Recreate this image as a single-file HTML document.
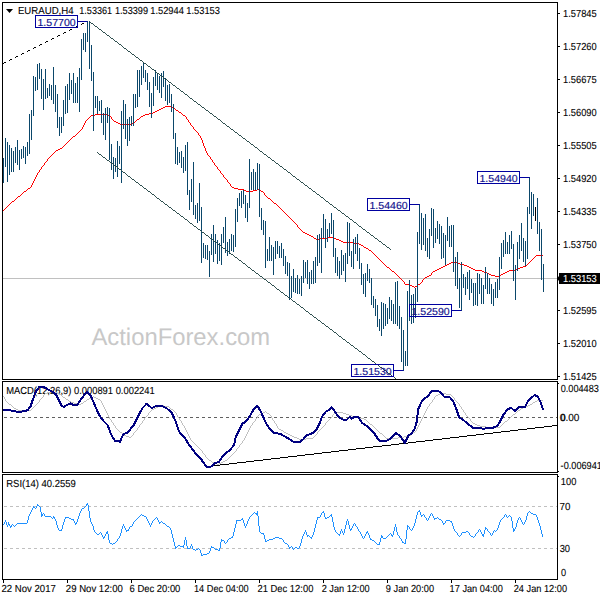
<!DOCTYPE html><html><head><meta charset="utf-8"><style>html,body{margin:0;padding:0;background:#fff;overflow:hidden}svg{display:block}</style></head><body><svg width="600" height="600" viewBox="0 0 600 600" font-family="Liberation Sans, sans-serif" style="text-rendering:geometricPrecision"><rect x="2.5" y="2.5" width="555" height="377" fill="none" stroke="#000"/><rect x="2.5" y="381.5" width="555" height="91" fill="none" stroke="#000"/><rect x="2.5" y="474.5" width="555" height="105" fill="none" stroke="#000"/><text x="6.23" y="394" font-size="10.2" textLength="148.53" lengthAdjust="spacingAndGlyphs" fill="#000" stroke="#000" stroke-width="0.1">MACD(12,26,9) 0.000891 0.002241</text><text x="6.22" y="487" font-size="10.2" textLength="69.53" lengthAdjust="spacingAndGlyphs" fill="#000" stroke="#000" stroke-width="0.1">RSI(14) 40.2559</text><text x="91.45" y="345" font-size="24" textLength="178.72" lengthAdjust="spacingAndGlyphs" fill="#c8c8c8">ActionForex.com</text><line x1="3" y1="278.5" x2="557" y2="278.5" stroke="#c0c0c0"/><path d="M165 106h7v1h-7zM163 107h2v1h-2zM172 107h2v1h-2zM161 108h2v1h-2zM174 108h1v1h-1zM159 109h2v1h-2zM175 109h1v1h-1zM157 110h2v1h-2zM176 110h2v1h-2zM155 111h2v1h-2zM178 111h1v1h-1zM153 112h2v1h-2zM179 112h2v1h-2zM149 113h4v1h-4zM181 113h1v1h-1zM95 114h12v1h-12zM145 114h4v1h-4zM182 114h1v1h-1zM91 115h4v1h-4zM107 115h3v1h-3zM143 115h2v1h-2zM183 115h2v1h-2zM90 116h1v1h-1zM110 116h1v1h-1zM141 116h2v1h-2zM185 116h1v1h-1zM89 117h1v1h-1zM111 117h1v1h-1zM140 117h1v1h-1zM186 117h1v1h-1zM88 118h1v1h-1zM111 118h1v1h-1zM139 118h1v1h-1zM186 118h1v1h-1zM87 119h1v1h-1zM112 119h1v1h-1zM137 119h2v1h-2zM187 119h1v1h-1zM86 120h1v1h-1zM113 120h1v1h-1zM136 120h1v1h-1zM188 120h1v1h-1zM85 121h1v1h-1zM114 121h2v1h-2zM135 121h1v1h-1zM188 121h1v1h-1zM85 122h1v1h-1zM116 122h2v1h-2zM133 122h2v1h-2zM189 122h1v1h-1zM84 123h1v1h-1zM118 123h2v1h-2zM131 123h2v1h-2zM190 123h1v1h-1zM84 124h1v1h-1zM120 124h11v1h-11zM190 124h1v1h-1zM83 125h1v1h-1zM191 125h1v1h-1zM83 126h1v1h-1zM192 126h1v1h-1zM82 127h1v1h-1zM193 127h1v1h-1zM82 128h1v1h-1zM193 128h1v1h-1zM81 129h1v1h-1zM194 129h1v1h-1zM80 130h1v1h-1zM195 130h1v1h-1zM79 131h1v1h-1zM196 131h1v1h-1zM78 132h1v1h-1zM197 132h1v1h-1zM77 133h1v1h-1zM198 133h1v1h-1zM76 134h1v1h-1zM198 134h1v1h-1zM75 135h1v1h-1zM199 135h1v1h-1zM73 136h2v1h-2zM200 136h1v1h-1zM72 137h1v1h-1zM200 137h1v1h-1zM71 138h1v1h-1zM201 138h1v1h-1zM70 139h1v1h-1zM201 139h1v1h-1zM69 140h1v1h-1zM202 140h1v1h-1zM68 141h1v1h-1zM202 141h1v1h-1zM67 142h1v1h-1zM202 142h1v1h-1zM66 143h1v1h-1zM203 143h1v1h-1zM65 144h1v1h-1zM203 144h1v1h-1zM64 145h1v1h-1zM203 145h1v1h-1zM63 146h1v1h-1zM204 146h1v1h-1zM62 147h1v1h-1zM204 147h1v1h-1zM60 148h2v1h-2zM205 148h1v1h-1zM58 149h2v1h-2zM205 149h1v1h-1zM56 150h2v1h-2zM205 150h1v1h-1zM55 151h1v1h-1zM206 151h1v1h-1zM54 152h1v1h-1zM206 152h1v1h-1zM53 153h1v1h-1zM207 153h1v1h-1zM52 154h1v1h-1zM207 154h1v1h-1zM51 155h1v1h-1zM208 155h1v1h-1zM50 156h1v1h-1zM209 156h1v1h-1zM49 157h1v1h-1zM210 157h1v1h-1zM48 158h1v1h-1zM210 158h1v1h-1zM47 159h1v1h-1zM211 159h1v1h-1zM47 160h1v1h-1zM212 160h1v1h-1zM46 161h1v1h-1zM212 161h1v1h-1zM45 162h1v1h-1zM213 162h1v1h-1zM44 163h1v1h-1zM214 163h1v1h-1zM44 164h1v1h-1zM214 164h1v1h-1zM43 165h1v1h-1zM215 165h1v1h-1zM42 166h1v1h-1zM216 166h1v1h-1zM41 167h1v1h-1zM217 167h1v1h-1zM41 168h1v1h-1zM217 168h1v1h-1zM40 169h1v1h-1zM218 169h1v1h-1zM39 170h1v1h-1zM219 170h1v1h-1zM39 171h1v1h-1zM220 171h1v1h-1zM38 172h1v1h-1zM220 172h1v1h-1zM37 173h1v1h-1zM221 173h1v1h-1zM37 174h1v1h-1zM222 174h1v1h-1zM36 175h1v1h-1zM223 175h1v1h-1zM36 176h1v1h-1zM223 176h1v1h-1zM35 177h1v1h-1zM224 177h1v1h-1zM35 178h1v1h-1zM225 178h1v1h-1zM34 179h1v1h-1zM226 179h1v1h-1zM34 180h1v1h-1zM227 180h1v1h-1zM33 181h1v1h-1zM227 181h1v1h-1zM33 182h1v1h-1zM228 182h1v1h-1zM32 183h1v1h-1zM229 183h1v1h-1zM32 184h1v1h-1zM230 184h1v1h-1zM31 185h1v1h-1zM230 185h1v1h-1zM31 186h1v1h-1zM231 186h1v1h-1zM30 187h1v1h-1zM232 187h2v1h-2zM28 188h2v1h-2zM234 188h4v1h-4zM27 189h1v1h-1zM238 189h6v1h-6zM257 189h2v1h-2zM26 190h1v1h-1zM244 190h2v1h-2zM253 190h4v1h-4zM259 190h2v1h-2zM24 191h2v1h-2zM246 191h7v1h-7zM261 191h2v1h-2zM23 192h1v1h-1zM263 192h1v1h-1zM22 193h1v1h-1zM264 193h1v1h-1zM21 194h1v1h-1zM264 194h1v1h-1zM20 195h1v1h-1zM265 195h1v1h-1zM18 196h2v1h-2zM266 196h1v1h-1zM17 197h1v1h-1zM267 197h1v1h-1zM16 198h1v1h-1zM268 198h2v1h-2zM15 199h1v1h-1zM270 199h1v1h-1zM14 200h1v1h-1zM271 200h1v1h-1zM12 201h2v1h-2zM272 201h1v1h-1zM11 202h1v1h-1zM273 202h1v1h-1zM10 203h1v1h-1zM274 203h2v1h-2zM9 204h1v1h-1zM276 204h1v1h-1zM8 205h1v1h-1zM277 205h1v1h-1zM7 206h1v1h-1zM278 206h1v1h-1zM6 207h1v1h-1zM279 207h1v1h-1zM5 208h1v1h-1zM280 208h1v1h-1zM4 209h1v1h-1zM281 209h1v1h-1zM3 210h1v1h-1zM282 210h1v1h-1zM283 211h1v1h-1zM284 212h1v1h-1zM285 213h1v1h-1zM286 214h1v1h-1zM287 215h1v1h-1zM288 216h1v1h-1zM289 217h1v1h-1zM290 218h1v1h-1zM291 219h1v1h-1zM292 220h1v1h-1zM293 221h1v1h-1zM294 222h1v1h-1zM295 223h1v1h-1zM296 224h1v1h-1zM297 225h1v1h-1zM297 226h1v1h-1zM298 227h1v1h-1zM299 228h1v1h-1zM300 229h1v1h-1zM301 230h1v1h-1zM302 231h1v1h-1zM303 232h2v1h-2zM305 233h2v1h-2zM307 234h2v1h-2zM309 235h2v1h-2zM311 236h2v1h-2zM313 237h1v1h-1zM327 237h7v1h-7zM314 238h2v1h-2zM319 238h8v1h-8zM334 238h2v1h-2zM316 239h3v1h-3zM336 239h3v1h-3zM339 240h2v1h-2zM341 241h2v1h-2zM343 242h11v1h-11zM354 243h5v1h-5zM359 244h2v1h-2zM361 245h2v1h-2zM363 246h1v1h-1zM364 247h2v1h-2zM366 248h2v1h-2zM368 249h1v1h-1zM369 250h2v1h-2zM371 251h1v1h-1zM372 252h1v1h-1zM373 253h1v1h-1zM374 254h1v1h-1zM375 255h1v1h-1zM536 255h7v1h-7zM376 256h1v1h-1zM535 256h1v1h-1zM377 257h1v1h-1zM534 257h1v1h-1zM378 258h1v1h-1zM533 258h1v1h-1zM379 259h1v1h-1zM532 259h1v1h-1zM380 260h1v1h-1zM531 260h1v1h-1zM381 261h1v1h-1zM530 261h1v1h-1zM382 262h1v1h-1zM451 262h6v1h-6zM529 262h1v1h-1zM383 263h1v1h-1zM449 263h2v1h-2zM457 263h3v1h-3zM528 263h1v1h-1zM384 264h1v1h-1zM447 264h2v1h-2zM460 264h4v1h-4zM527 264h1v1h-1zM385 265h1v1h-1zM445 265h2v1h-2zM464 265h3v1h-3zM526 265h1v1h-1zM386 266h1v1h-1zM443 266h2v1h-2zM467 266h2v1h-2zM523 266h3v1h-3zM387 267h2v1h-2zM441 267h2v1h-2zM469 267h2v1h-2zM520 267h3v1h-3zM389 268h1v1h-1zM439 268h2v1h-2zM471 268h2v1h-2zM518 268h2v1h-2zM390 269h1v1h-1zM437 269h2v1h-2zM473 269h2v1h-2zM516 269h2v1h-2zM391 270h1v1h-1zM435 270h2v1h-2zM475 270h7v1h-7zM509 270h7v1h-7zM392 271h2v1h-2zM433 271h2v1h-2zM482 271h2v1h-2zM507 271h2v1h-2zM394 272h1v1h-1zM432 272h1v1h-1zM484 272h3v1h-3zM505 272h2v1h-2zM395 273h1v1h-1zM431 273h1v1h-1zM487 273h2v1h-2zM503 273h2v1h-2zM396 274h1v1h-1zM431 274h1v1h-1zM489 274h2v1h-2zM501 274h2v1h-2zM397 275h1v1h-1zM429 275h2v1h-2zM491 275h4v1h-4zM499 275h2v1h-2zM398 276h1v1h-1zM427 276h2v1h-2zM495 276h4v1h-4zM399 277h1v1h-1zM425 277h2v1h-2zM400 278h1v1h-1zM424 278h1v1h-1zM401 279h1v1h-1zM423 279h1v1h-1zM402 280h1v1h-1zM422 280h1v1h-1zM403 281h1v1h-1zM422 281h1v1h-1zM404 282h1v1h-1zM421 282h1v1h-1zM404 283h1v1h-1zM420 283h1v1h-1zM405 284h5v1h-5zM418 284h2v1h-2zM410 285h2v1h-2zM417 285h1v1h-1zM412 286h2v1h-2zM415 286h2v1h-2zM414 287h1v1h-1z" fill="#ff0000" shape-rendering="crispEdges"/><path d="M3.5 158V183M5.5 138V167M7.5 142V182M9.5 145V175M11.5 148V172M13.5 151V172M15.5 147V163M17.5 140V165M19.5 150V170M21.5 149V159M23.5 146V158M25.5 147V164M27.5 142V156M29.5 114V154M31.5 110V140M33.5 76V116M35.5 77V91M37.5 64V90M39.5 63V79M41.5 69V99M43.5 79V110M45.5 69V99M47.5 88V98M49.5 84V96M51.5 85V100M53.5 67V104M55.5 85V112M57.5 94V128M59.5 117V136M61.5 117V133M63.5 100V126M65.5 86V114M67.5 84V113M69.5 73V100M71.5 80V94M73.5 73V103M75.5 83V103M77.5 77V103M79.5 68V112M81.5 39V80M83.5 33V50M85.5 33V52M87.5 21V42M89.5 21V69M91.5 45V81M93.5 72V131M95.5 96V108M97.5 96V114M99.5 101V111M101.5 100V123M103.5 113V135M105.5 108V140M107.5 107V123M109.5 108V160M111.5 144V170M113.5 157V179M115.5 158V172M117.5 141V177M119.5 146V164M121.5 111V183M123.5 100V129M125.5 104V139M127.5 119V146M129.5 117V141M131.5 116V126M133.5 94V126M135.5 94V108M137.5 70V107M139.5 70V97M141.5 66V85M143.5 62V78M145.5 70V82M147.5 73V90M149.5 82V107M151.5 93V118M153.5 77V106M155.5 70V86M157.5 73V90M159.5 76V93M161.5 73V98M163.5 71V87M165.5 78V101M167.5 85V105M169.5 84V103M171.5 94V112M173.5 104V139M175.5 133V164M177.5 147V165M179.5 152V163M181.5 151V168M183.5 157V173M185.5 145V171M187.5 142V195M189.5 190V210M191.5 179V202M193.5 162V215M195.5 205V219M197.5 203V223M199.5 183V221M201.5 207V263M203.5 243V258M205.5 245V259M207.5 245V260M209.5 251V277M211.5 234V255M213.5 225V262M215.5 234V254M217.5 240V264M219.5 243V261M221.5 234V265M223.5 227V243M225.5 217V253M227.5 242V256M229.5 239V254M231.5 234V251M233.5 235V252M235.5 209V247M237.5 198V222M239.5 193V206M241.5 191V208M243.5 190V204M245.5 195V218M247.5 203V222M249.5 159V208M251.5 172V190M253.5 169V190M255.5 172V190M257.5 163V190M259.5 164V217M261.5 208V230M263.5 220V235M265.5 221V268M267.5 249V261M269.5 237V261M271.5 245V261M273.5 247V275M275.5 241V259M277.5 241V254M279.5 246V258M281.5 243V258M283.5 249V266M285.5 256V274M287.5 262V276M289.5 263V300M291.5 276V298M293.5 269V292M295.5 278V293M297.5 275V294M299.5 279V294M301.5 276V296M303.5 260V283M305.5 262V278M307.5 260V284M309.5 272V289M311.5 270V284M313.5 261V284M315.5 257V283M317.5 235V266M319.5 234V263M321.5 228V273M323.5 214V238M325.5 219V248M327.5 229V242M329.5 223V237M331.5 213V234M333.5 220V257M335.5 248V273M337.5 257V276M339.5 261V279M341.5 250V275M343.5 255V271M345.5 253V282M347.5 222V264M349.5 223V256M351.5 251V267M353.5 239V269M355.5 237V254M357.5 234V261M359.5 248V269M361.5 263V285M363.5 274V294M365.5 273V297M367.5 264V281M369.5 269V283M371.5 278V305M373.5 296V308M375.5 299V316M377.5 305V327M379.5 319V331M381.5 302V336M383.5 303V329M385.5 304V326M387.5 308V324M389.5 297V319M391.5 300V321M393.5 304V324M395.5 282V324M397.5 281V326M399.5 306V329M401.5 317V362M403.5 330V371M405.5 351V366M407.5 291V366M409.5 280V321M411.5 295V324M413.5 294V323M415.5 288V318M417.5 232V302M419.5 204V244M421.5 213V250M423.5 218V245M425.5 214V251M427.5 238V257M429.5 229V259M431.5 208V236M433.5 209V248M435.5 228V243M437.5 221V239M439.5 224V244M441.5 226V259M443.5 233V258M445.5 235V265M447.5 217V241M449.5 226V247M451.5 225V247M453.5 225V272M455.5 257V286M457.5 252V289M459.5 278V308M461.5 262V311M463.5 274V288M465.5 277V295M467.5 272V289M469.5 270V300M471.5 279V293M473.5 283V306M475.5 283V305M477.5 273V306M479.5 274V294M481.5 278V304M483.5 285V304M485.5 267V289M487.5 273V294M489.5 278V294M491.5 284V304M493.5 289V306M495.5 282V298M497.5 279V298M499.5 257V290M501.5 243V269M503.5 240V257M505.5 232V254M507.5 242V254M509.5 235V254M511.5 231V249M513.5 244V281M515.5 265V300M517.5 242V271M519.5 235V259M521.5 223V251M523.5 238V262M525.5 241V266M527.5 207V259M529.5 177V214M531.5 192V229M533.5 194V216M537.5 198V234M539.5 222V251M541.5 229V280M543.5 264V292" stroke="#0b476b" stroke-width="1" fill="none" shape-rendering="crispEdges"/><path d="M535.5 207V221" stroke="#000" shape-rendering="crispEdges"/><path d="M89 21h1v1h-1zM90 22h1v1h-1zM91 23h2v1h-2zM93 24h1v1h-1zM94 25h1v1h-1zM95 26h2v1h-2zM97 27h1v1h-1zM98 28h1v1h-1zM99 29h2v1h-2zM101 30h1v1h-1zM102 31h1v1h-1zM103 32h2v1h-2zM105 33h1v1h-1zM106 34h1v1h-1zM107 35h2v1h-2zM109 36h1v1h-1zM110 37h1v1h-1zM111 38h2v1h-2zM113 39h1v1h-1zM114 40h1v1h-1zM115 41h2v1h-2zM117 42h1v1h-1zM118 43h1v1h-1zM119 44h2v1h-2zM121 45h1v1h-1zM122 46h1v1h-1zM123 47h1v1h-1zM124 48h2v1h-2zM126 49h1v1h-1zM127 50h1v1h-1zM128 51h2v1h-2zM130 52h1v1h-1zM131 53h1v1h-1zM132 54h2v1h-2zM134 55h1v1h-1zM135 56h1v1h-1zM136 57h2v1h-2zM138 58h1v1h-1zM139 59h1v1h-1zM140 60h2v1h-2zM142 61h1v1h-1zM143 62h1v1h-1zM144 63h2v1h-2zM146 64h1v1h-1zM147 65h1v1h-1zM148 66h2v1h-2zM150 67h1v1h-1zM151 68h1v1h-1zM152 69h2v1h-2zM154 70h1v1h-1zM155 71h1v1h-1zM156 72h1v1h-1zM157 73h2v1h-2zM159 74h1v1h-1zM160 75h1v1h-1zM161 76h2v1h-2zM163 77h1v1h-1zM164 78h1v1h-1zM165 79h2v1h-2zM167 80h1v1h-1zM168 81h1v1h-1zM169 82h2v1h-2zM171 83h1v1h-1zM172 84h1v1h-1zM173 85h2v1h-2zM175 86h1v1h-1zM176 87h1v1h-1zM177 88h2v1h-2zM179 89h1v1h-1zM180 90h1v1h-1zM181 91h2v1h-2zM183 92h1v1h-1zM184 93h1v1h-1zM185 94h2v1h-2zM187 95h1v1h-1zM188 96h1v1h-1zM189 97h1v1h-1zM190 98h2v1h-2zM192 99h1v1h-1zM193 100h1v1h-1zM194 101h2v1h-2zM196 102h1v1h-1zM197 103h1v1h-1zM198 104h2v1h-2zM200 105h1v1h-1zM201 106h1v1h-1zM202 107h2v1h-2zM204 108h1v1h-1zM205 109h1v1h-1zM206 110h2v1h-2zM208 111h1v1h-1zM209 112h1v1h-1zM210 113h2v1h-2zM212 114h1v1h-1zM213 115h1v1h-1zM214 116h2v1h-2zM216 117h1v1h-1zM217 118h1v1h-1zM218 119h2v1h-2zM220 120h1v1h-1zM221 121h1v1h-1zM222 122h1v1h-1zM223 123h2v1h-2zM225 124h1v1h-1zM226 125h1v1h-1zM227 126h2v1h-2zM229 127h1v1h-1zM230 128h1v1h-1zM231 129h2v1h-2zM233 130h1v1h-1zM234 131h1v1h-1zM235 132h2v1h-2zM237 133h1v1h-1zM238 134h1v1h-1zM239 135h2v1h-2zM241 136h1v1h-1zM242 137h1v1h-1zM243 138h2v1h-2zM245 139h1v1h-1zM246 140h1v1h-1zM247 141h2v1h-2zM249 142h1v1h-1zM250 143h1v1h-1zM251 144h2v1h-2zM253 145h1v1h-1zM254 146h1v1h-1zM255 147h2v1h-2zM257 148h1v1h-1zM258 149h1v1h-1zM259 150h1v1h-1zM260 151h2v1h-2zM262 152h1v1h-1zM263 153h1v1h-1zM264 154h2v1h-2zM266 155h1v1h-1zM267 156h1v1h-1zM268 157h2v1h-2zM270 158h1v1h-1zM271 159h1v1h-1zM272 160h2v1h-2zM274 161h1v1h-1zM275 162h1v1h-1zM276 163h2v1h-2zM278 164h1v1h-1zM279 165h1v1h-1zM280 166h2v1h-2zM282 167h1v1h-1zM283 168h1v1h-1zM284 169h2v1h-2zM286 170h1v1h-1zM287 171h1v1h-1zM288 172h2v1h-2zM290 173h1v1h-1zM291 174h1v1h-1zM292 175h1v1h-1zM293 176h2v1h-2zM295 177h1v1h-1zM296 178h1v1h-1zM297 179h2v1h-2zM299 180h1v1h-1zM300 181h1v1h-1zM301 182h2v1h-2zM303 183h1v1h-1zM304 184h1v1h-1zM305 185h2v1h-2zM307 186h1v1h-1zM308 187h1v1h-1zM309 188h2v1h-2zM311 189h1v1h-1zM312 190h1v1h-1zM313 191h2v1h-2zM315 192h1v1h-1zM316 193h1v1h-1zM317 194h2v1h-2zM319 195h1v1h-1zM320 196h1v1h-1zM321 197h2v1h-2zM323 198h1v1h-1zM324 199h1v1h-1zM325 200h1v1h-1zM326 201h2v1h-2zM328 202h1v1h-1zM329 203h1v1h-1zM330 204h2v1h-2zM332 205h1v1h-1zM333 206h1v1h-1zM334 207h2v1h-2zM336 208h1v1h-1zM337 209h1v1h-1zM338 210h2v1h-2zM340 211h1v1h-1zM341 212h1v1h-1zM342 213h2v1h-2zM344 214h1v1h-1zM345 215h1v1h-1zM346 216h2v1h-2zM348 217h1v1h-1zM349 218h1v1h-1zM350 219h2v1h-2zM352 220h1v1h-1zM353 221h1v1h-1zM354 222h2v1h-2zM356 223h1v1h-1zM357 224h1v1h-1zM358 225h1v1h-1zM359 226h2v1h-2zM361 227h1v1h-1zM362 228h1v1h-1zM363 229h2v1h-2zM365 230h1v1h-1zM366 231h1v1h-1zM367 232h2v1h-2zM369 233h1v1h-1zM370 234h1v1h-1zM371 235h2v1h-2zM373 236h1v1h-1zM374 237h1v1h-1zM375 238h2v1h-2zM377 239h1v1h-1zM378 240h1v1h-1zM379 241h2v1h-2zM381 242h1v1h-1zM382 243h1v1h-1zM383 244h2v1h-2zM385 245h1v1h-1zM386 246h1v1h-1zM387 247h2v1h-2zM389 248h1v1h-1zM390 249h1v1h-1z" fill="#2f4f4f" shape-rendering="crispEdges"/><path d="M97 152h1v1h-1zM98 153h1v1h-1zM99 154h2v1h-2zM101 155h1v1h-1zM102 156h1v1h-1zM103 157h2v1h-2zM105 158h1v1h-1zM106 159h1v1h-1zM107 160h2v1h-2zM109 161h1v1h-1zM110 162h1v1h-1zM111 163h2v1h-2zM113 164h1v1h-1zM114 165h1v1h-1zM115 166h2v1h-2zM117 167h1v1h-1zM118 168h1v1h-1zM119 169h2v1h-2zM121 170h1v1h-1zM122 171h1v1h-1zM123 172h2v1h-2zM125 173h1v1h-1zM126 174h1v1h-1zM127 175h1v1h-1zM128 176h2v1h-2zM130 177h1v1h-1zM131 178h1v1h-1zM132 179h2v1h-2zM134 180h1v1h-1zM135 181h1v1h-1zM136 182h2v1h-2zM138 183h1v1h-1zM139 184h1v1h-1zM140 185h2v1h-2zM142 186h1v1h-1zM143 187h1v1h-1zM144 188h2v1h-2zM146 189h1v1h-1zM147 190h1v1h-1zM148 191h2v1h-2zM150 192h1v1h-1zM151 193h1v1h-1zM152 194h2v1h-2zM154 195h1v1h-1zM155 196h1v1h-1zM156 197h1v1h-1zM157 198h2v1h-2zM159 199h1v1h-1zM160 200h1v1h-1zM161 201h2v1h-2zM163 202h1v1h-1zM164 203h1v1h-1zM165 204h2v1h-2zM167 205h1v1h-1zM168 206h1v1h-1zM169 207h2v1h-2zM171 208h1v1h-1zM172 209h1v1h-1zM173 210h2v1h-2zM175 211h1v1h-1zM176 212h1v1h-1zM177 213h2v1h-2zM179 214h1v1h-1zM180 215h1v1h-1zM181 216h2v1h-2zM183 217h1v1h-1zM184 218h1v1h-1zM185 219h2v1h-2zM187 220h1v1h-1zM188 221h1v1h-1zM189 222h1v1h-1zM190 223h2v1h-2zM192 224h1v1h-1zM193 225h1v1h-1zM194 226h2v1h-2zM196 227h1v1h-1zM197 228h1v1h-1zM198 229h2v1h-2zM200 230h1v1h-1zM201 231h1v1h-1zM202 232h2v1h-2zM204 233h1v1h-1zM205 234h1v1h-1zM206 235h2v1h-2zM208 236h1v1h-1zM209 237h1v1h-1zM210 238h2v1h-2zM212 239h1v1h-1zM213 240h1v1h-1zM214 241h2v1h-2zM216 242h1v1h-1zM217 243h1v1h-1zM218 244h1v1h-1zM219 245h2v1h-2zM221 246h1v1h-1zM222 247h1v1h-1zM223 248h2v1h-2zM225 249h1v1h-1zM226 250h1v1h-1zM227 251h2v1h-2zM229 252h1v1h-1zM230 253h1v1h-1zM231 254h2v1h-2zM233 255h1v1h-1zM234 256h1v1h-1zM235 257h2v1h-2zM237 258h1v1h-1zM238 259h1v1h-1zM239 260h2v1h-2zM241 261h1v1h-1zM242 262h1v1h-1zM243 263h2v1h-2zM245 264h1v1h-1zM246 265h1v1h-1zM247 266h1v1h-1zM248 267h2v1h-2zM250 268h1v1h-1zM251 269h1v1h-1zM252 270h2v1h-2zM254 271h1v1h-1zM255 272h1v1h-1zM256 273h2v1h-2zM258 274h1v1h-1zM259 275h1v1h-1zM260 276h2v1h-2zM262 277h1v1h-1zM263 278h1v1h-1zM264 279h2v1h-2zM266 280h1v1h-1zM267 281h1v1h-1zM268 282h2v1h-2zM270 283h1v1h-1zM271 284h1v1h-1zM272 285h2v1h-2zM274 286h1v1h-1zM275 287h1v1h-1zM276 288h1v1h-1zM277 289h2v1h-2zM279 290h1v1h-1zM280 291h1v1h-1zM281 292h2v1h-2zM283 293h1v1h-1zM284 294h1v1h-1zM285 295h2v1h-2zM287 296h1v1h-1zM288 297h1v1h-1zM289 298h2v1h-2zM291 299h1v1h-1zM292 300h1v1h-1zM293 301h2v1h-2zM295 302h1v1h-1zM296 303h1v1h-1zM297 304h2v1h-2zM299 305h1v1h-1zM300 306h1v1h-1zM301 307h2v1h-2zM303 308h1v1h-1zM304 309h1v1h-1zM305 310h1v1h-1zM306 311h2v1h-2zM308 312h1v1h-1zM309 313h1v1h-1zM310 314h2v1h-2zM312 315h1v1h-1zM313 316h1v1h-1zM314 317h2v1h-2zM316 318h1v1h-1zM317 319h1v1h-1zM318 320h2v1h-2zM320 321h1v1h-1zM321 322h1v1h-1zM322 323h2v1h-2zM324 324h1v1h-1zM325 325h1v1h-1zM326 326h2v1h-2zM328 327h1v1h-1zM329 328h1v1h-1zM330 329h2v1h-2zM332 330h1v1h-1zM333 331h1v1h-1zM334 332h2v1h-2zM336 333h1v1h-1zM337 334h1v1h-1zM338 335h1v1h-1zM339 336h2v1h-2zM341 337h1v1h-1zM342 338h1v1h-1zM343 339h2v1h-2zM345 340h1v1h-1zM346 341h1v1h-1zM347 342h2v1h-2zM349 343h1v1h-1zM350 344h1v1h-1zM351 345h2v1h-2zM353 346h1v1h-1zM354 347h1v1h-1zM355 348h2v1h-2zM357 349h1v1h-1zM358 350h1v1h-1zM359 351h2v1h-2zM361 352h1v1h-1zM362 353h1v1h-1zM363 354h2v1h-2zM365 355h1v1h-1zM366 356h1v1h-1zM367 357h1v1h-1zM368 358h2v1h-2zM370 359h1v1h-1zM371 360h1v1h-1zM372 361h2v1h-2zM374 362h1v1h-1zM375 363h1v1h-1zM376 364h2v1h-2zM378 365h1v1h-1zM379 366h1v1h-1zM380 367h2v1h-2zM382 368h1v1h-1zM383 369h1v1h-1zM384 370h2v1h-2zM386 371h1v1h-1zM387 372h1v1h-1zM388 373h2v1h-2zM390 374h1v1h-1zM391 375h1v1h-1zM392 376h2v1h-2zM394 377h1v1h-1zM395 378h1v1h-1z" fill="#2f4f4f" shape-rendering="crispEdges"/><path d="M82 23h2v1h-2zM81 24h1v1h-1zM76 26h2v1h-2zM75 27h1v1h-1zM70 29h2v1h-2zM69 30h1v1h-1zM64 32h2v1h-2zM63 33h1v1h-1zM58 35h2v1h-2zM57 36h1v1h-1zM52 38h2v1h-2zM51 39h1v1h-1zM46 41h2v1h-2zM45 42h1v1h-1zM40 44h2v1h-2zM39 45h1v1h-1zM34 47h2v1h-2zM33 48h1v1h-1zM28 50h2v1h-2zM27 51h1v1h-1zM22 53h2v1h-2zM21 54h1v1h-1zM16 56h2v1h-2zM15 57h1v1h-1zM10 59h2v1h-2zM9 60h1v1h-1zM4 62h2v1h-2zM3 63h1v1h-1z" fill="#000" shape-rendering="crispEdges"/><rect x="35.5" y="15.5" width="42" height="12" fill="none" stroke="#0000a0"/><text x="37.49" y="26" font-size="10.2" textLength="38.22" lengthAdjust="spacingAndGlyphs" fill="#10108c" stroke="#10108c" stroke-width="0.15">1.57700</text><polyline points="78,21.5 87.5,21.5" fill="none" stroke="#0000a0"/><rect x="367.5" y="198.5" width="42" height="12" fill="none" stroke="#0000a0"/><text x="369.49" y="209" font-size="10.2" textLength="38.22" lengthAdjust="spacingAndGlyphs" fill="#10108c" stroke="#10108c" stroke-width="0.15">1.54460</text><polyline points="410,204.5 419.5,204.5" fill="none" stroke="#0000a0"/><rect x="477.5" y="171.5" width="42" height="12" fill="none" stroke="#0000a0"/><text x="479.49" y="182" font-size="10.2" textLength="38.22" lengthAdjust="spacingAndGlyphs" fill="#10108c" stroke="#10108c" stroke-width="0.15">1.54940</text><polyline points="520,177.5 529.5,177.5" fill="none" stroke="#0000a0"/><rect x="409.5" y="304.5" width="42" height="12" fill="none" stroke="#0000a0"/><text x="411.49" y="315" font-size="10.2" textLength="38.22" lengthAdjust="spacingAndGlyphs" fill="#10108c" stroke="#10108c" stroke-width="0.15">1.52590</text><polyline points="452,310.5 461.5,310.5" fill="none" stroke="#0000a0"/><rect x="351.5" y="364.5" width="42" height="12" fill="none" stroke="#0000a0"/><text x="353.49" y="375" font-size="10.2" textLength="38.22" lengthAdjust="spacingAndGlyphs" fill="#10108c" stroke="#10108c" stroke-width="0.15">1.51530</text><polyline points="394,370.5 403.5,370.5" fill="none" stroke="#0000a0"/><line x1="557" y1="13.5" x2="560" y2="13.5" stroke="#000"/><text x="563.04" y="17" font-size="10.2" textLength="33.65" lengthAdjust="spacingAndGlyphs" fill="#000" stroke="#000" stroke-width="0.1">1.57845</text><line x1="557" y1="46.5" x2="560" y2="46.5" stroke="#000"/><text x="563.04" y="50" font-size="10.2" textLength="33.62" lengthAdjust="spacingAndGlyphs" fill="#000" stroke="#000" stroke-width="0.1">1.57260</text><line x1="557" y1="79.5" x2="560" y2="79.5" stroke="#000"/><text x="563.04" y="83" font-size="10.2" textLength="33.65" lengthAdjust="spacingAndGlyphs" fill="#000" stroke="#000" stroke-width="0.1">1.56675</text><line x1="557" y1="112.5" x2="560" y2="112.5" stroke="#000"/><text x="563.04" y="116" font-size="10.2" textLength="33.62" lengthAdjust="spacingAndGlyphs" fill="#000" stroke="#000" stroke-width="0.1">1.56090</text><line x1="557" y1="145.5" x2="560" y2="145.5" stroke="#000"/><text x="563.04" y="149" font-size="10.2" textLength="33.65" lengthAdjust="spacingAndGlyphs" fill="#000" stroke="#000" stroke-width="0.1">1.55505</text><line x1="557" y1="178.5" x2="560" y2="178.5" stroke="#000"/><text x="563.04" y="182" font-size="10.2" textLength="33.62" lengthAdjust="spacingAndGlyphs" fill="#000" stroke="#000" stroke-width="0.1">1.54920</text><line x1="557" y1="211.5" x2="560" y2="211.5" stroke="#000"/><text x="563.04" y="215" font-size="10.2" textLength="33.65" lengthAdjust="spacingAndGlyphs" fill="#000" stroke="#000" stroke-width="0.1">1.54335</text><line x1="557" y1="244.5" x2="560" y2="244.5" stroke="#000"/><text x="563.04" y="248" font-size="10.2" textLength="33.62" lengthAdjust="spacingAndGlyphs" fill="#000" stroke="#000" stroke-width="0.1">1.53750</text><line x1="557" y1="310.5" x2="560" y2="310.5" stroke="#000"/><text x="563.04" y="314" font-size="10.2" textLength="33.65" lengthAdjust="spacingAndGlyphs" fill="#000" stroke="#000" stroke-width="0.1">1.52595</text><line x1="557" y1="343.5" x2="560" y2="343.5" stroke="#000"/><text x="563.04" y="347" font-size="10.2" textLength="33.62" lengthAdjust="spacingAndGlyphs" fill="#000" stroke="#000" stroke-width="0.1">1.52010</text><line x1="557" y1="376.5" x2="560" y2="376.5" stroke="#000"/><text x="563.04" y="380" font-size="10.2" textLength="33.65" lengthAdjust="spacingAndGlyphs" fill="#000" stroke="#000" stroke-width="0.1">1.51425</text><path d="M559 273 H600 V284 H559 V281 L557 278.5 L559 276 Z" fill="#000"/><text x="563.04" y="282" font-size="10.2" textLength="33.67" lengthAdjust="spacingAndGlyphs" fill="#fff" stroke="#fff" stroke-width="0.1">1.53153</text><line x1="4" y1="417.5" x2="557" y2="417.5" stroke="#606060" stroke-dasharray="3 3"/><path d="M552 425h5v1h-5zM544 426h8v1h-8zM535 427h9v1h-9zM527 428h8v1h-8zM518 429h9v1h-9zM510 430h8v1h-8zM501 431h9v1h-9zM493 432h8v1h-8zM484 433h9v1h-9zM476 434h8v1h-8zM467 435h9v1h-9zM459 436h8v1h-8zM450 437h9v1h-9zM442 438h8v1h-8zM433 439h9v1h-9zM425 440h8v1h-8zM416 441h9v1h-9zM408 442h8v1h-8zM399 443h9v1h-9zM391 444h8v1h-8zM382 445h9v1h-9zM373 446h9v1h-9zM365 447h8v1h-8zM356 448h9v1h-9zM348 449h8v1h-8zM339 450h9v1h-9zM331 451h8v1h-8zM322 452h9v1h-9zM314 453h8v1h-8zM305 454h9v1h-9zM297 455h8v1h-8zM288 456h9v1h-9zM280 457h8v1h-8zM271 458h9v1h-9zM263 459h8v1h-8zM254 460h9v1h-9zM246 461h8v1h-8zM237 462h9v1h-9zM229 463h8v1h-8zM220 464h9v1h-9zM212 465h8v1h-8zM207 466h5v1h-5z" fill="#000" shape-rendering="crispEdges"/><path d="M50 391h3v1h-3zM47 392h3v1h-3zM53 392h4v1h-4zM45 393h2v1h-2zM57 393h2v1h-2zM440 393h6v1h-6zM44 394h1v1h-1zM59 394h2v1h-2zM438 394h2v1h-2zM446 394h5v1h-5zM43 395h1v1h-1zM61 395h1v1h-1zM436 395h2v1h-2zM451 395h1v1h-1zM3 396h1v1h-1zM43 396h1v1h-1zM62 396h1v1h-1zM93 396h1v1h-1zM435 396h1v1h-1zM452 396h1v1h-1zM4 397h1v1h-1zM42 397h1v1h-1zM63 397h2v1h-2zM91 397h2v1h-2zM94 397h2v1h-2zM434 397h1v1h-1zM453 397h1v1h-1zM4 398h1v1h-1zM41 398h1v1h-1zM65 398h1v1h-1zM89 398h2v1h-2zM96 398h2v1h-2zM434 398h1v1h-1zM454 398h1v1h-1zM5 399h1v1h-1zM40 399h1v1h-1zM66 399h2v1h-2zM87 399h2v1h-2zM98 399h2v1h-2zM433 399h1v1h-1zM454 399h1v1h-1zM5 400h1v1h-1zM39 400h1v1h-1zM68 400h1v1h-1zM86 400h1v1h-1zM100 400h1v1h-1zM432 400h1v1h-1zM455 400h1v1h-1zM537 400h6v1h-6zM6 401h1v1h-1zM39 401h1v1h-1zM69 401h2v1h-2zM84 401h2v1h-2zM101 401h1v1h-1zM432 401h1v1h-1zM456 401h1v1h-1zM535 401h2v1h-2zM7 402h1v1h-1zM38 402h1v1h-1zM71 402h3v1h-3zM83 402h1v1h-1zM101 402h1v1h-1zM431 402h1v1h-1zM457 402h1v1h-1zM533 402h2v1h-2zM8 403h1v1h-1zM37 403h1v1h-1zM74 403h4v1h-4zM81 403h2v1h-2zM102 403h1v1h-1zM430 403h1v1h-1zM458 403h1v1h-1zM532 403h1v1h-1zM9 404h2v1h-2zM36 404h1v1h-1zM78 404h3v1h-3zM102 404h1v1h-1zM429 404h1v1h-1zM459 404h1v1h-1zM530 404h2v1h-2zM11 405h1v1h-1zM35 405h1v1h-1zM103 405h1v1h-1zM160 405h4v1h-4zM429 405h1v1h-1zM459 405h1v1h-1zM528 405h2v1h-2zM12 406h1v1h-1zM34 406h1v1h-1zM103 406h1v1h-1zM158 406h2v1h-2zM164 406h5v1h-5zM428 406h1v1h-1zM460 406h1v1h-1zM526 406h2v1h-2zM13 407h1v1h-1zM33 407h1v1h-1zM104 407h1v1h-1zM156 407h2v1h-2zM169 407h1v1h-1zM427 407h1v1h-1zM461 407h1v1h-1zM523 407h3v1h-3zM14 408h2v1h-2zM32 408h1v1h-1zM104 408h1v1h-1zM154 408h2v1h-2zM170 408h1v1h-1zM427 408h1v1h-1zM461 408h1v1h-1zM521 408h2v1h-2zM16 409h2v1h-2zM31 409h1v1h-1zM105 409h1v1h-1zM152 409h2v1h-2zM171 409h2v1h-2zM426 409h1v1h-1zM462 409h1v1h-1zM520 409h1v1h-1zM18 410h13v1h-13zM105 410h1v1h-1zM151 410h1v1h-1zM173 410h1v1h-1zM426 410h1v1h-1zM463 410h1v1h-1zM518 410h2v1h-2zM106 411h1v1h-1zM150 411h1v1h-1zM174 411h1v1h-1zM265 411h1v1h-1zM425 411h1v1h-1zM463 411h1v1h-1zM517 411h1v1h-1zM106 412h1v1h-1zM149 412h1v1h-1zM175 412h1v1h-1zM263 412h2v1h-2zM266 412h1v1h-1zM335 412h8v1h-8zM425 412h1v1h-1zM464 412h1v1h-1zM516 412h1v1h-1zM107 413h1v1h-1zM148 413h1v1h-1zM176 413h1v1h-1zM261 413h2v1h-2zM267 413h2v1h-2zM334 413h1v1h-1zM343 413h3v1h-3zM424 413h1v1h-1zM465 413h1v1h-1zM515 413h1v1h-1zM107 414h1v1h-1zM148 414h1v1h-1zM176 414h1v1h-1zM259 414h2v1h-2zM269 414h1v1h-1zM333 414h1v1h-1zM346 414h3v1h-3zM424 414h1v1h-1zM465 414h1v1h-1zM513 414h2v1h-2zM108 415h1v1h-1zM147 415h1v1h-1zM177 415h1v1h-1zM258 415h1v1h-1zM270 415h1v1h-1zM332 415h1v1h-1zM349 415h3v1h-3zM423 415h1v1h-1zM466 415h1v1h-1zM512 415h1v1h-1zM108 416h1v1h-1zM146 416h1v1h-1zM177 416h1v1h-1zM257 416h1v1h-1zM271 416h1v1h-1zM332 416h1v1h-1zM352 416h4v1h-4zM423 416h1v1h-1zM467 416h1v1h-1zM511 416h1v1h-1zM109 417h1v1h-1zM145 417h1v1h-1zM178 417h1v1h-1zM257 417h1v1h-1zM271 417h1v1h-1zM331 417h1v1h-1zM356 417h4v1h-4zM422 417h1v1h-1zM468 417h1v1h-1zM510 417h1v1h-1zM109 418h1v1h-1zM144 418h1v1h-1zM179 418h1v1h-1zM256 418h1v1h-1zM272 418h1v1h-1zM330 418h1v1h-1zM360 418h4v1h-4zM422 418h1v1h-1zM469 418h1v1h-1zM509 418h1v1h-1zM110 419h1v1h-1zM144 419h1v1h-1zM179 419h1v1h-1zM255 419h1v1h-1zM272 419h1v1h-1zM329 419h1v1h-1zM364 419h2v1h-2zM421 419h1v1h-1zM470 419h1v1h-1zM508 419h1v1h-1zM111 420h1v1h-1zM143 420h1v1h-1zM180 420h1v1h-1zM255 420h1v1h-1zM273 420h1v1h-1zM328 420h1v1h-1zM366 420h1v1h-1zM421 420h1v1h-1zM470 420h1v1h-1zM507 420h1v1h-1zM111 421h1v1h-1zM142 421h1v1h-1zM181 421h1v1h-1zM254 421h1v1h-1zM274 421h1v1h-1zM327 421h1v1h-1zM367 421h1v1h-1zM420 421h1v1h-1zM471 421h1v1h-1zM505 421h2v1h-2zM112 422h1v1h-1zM142 422h1v1h-1zM181 422h1v1h-1zM253 422h1v1h-1zM274 422h1v1h-1zM326 422h1v1h-1zM368 422h1v1h-1zM420 422h1v1h-1zM472 422h1v1h-1zM504 422h1v1h-1zM113 423h1v1h-1zM141 423h1v1h-1zM182 423h1v1h-1zM252 423h1v1h-1zM275 423h1v1h-1zM325 423h1v1h-1zM369 423h1v1h-1zM419 423h1v1h-1zM473 423h2v1h-2zM503 423h1v1h-1zM113 424h1v1h-1zM140 424h1v1h-1zM182 424h1v1h-1zM252 424h1v1h-1zM276 424h1v1h-1zM325 424h1v1h-1zM370 424h2v1h-2zM419 424h1v1h-1zM475 424h2v1h-2zM502 424h1v1h-1zM114 425h1v1h-1zM139 425h1v1h-1zM183 425h1v1h-1zM251 425h1v1h-1zM276 425h1v1h-1zM324 425h1v1h-1zM372 425h1v1h-1zM418 425h1v1h-1zM477 425h3v1h-3zM501 425h1v1h-1zM115 426h1v1h-1zM139 426h1v1h-1zM184 426h1v1h-1zM250 426h1v1h-1zM277 426h1v1h-1zM323 426h1v1h-1zM373 426h1v1h-1zM418 426h1v1h-1zM480 426h6v1h-6zM500 426h1v1h-1zM115 427h1v1h-1zM138 427h1v1h-1zM184 427h1v1h-1zM250 427h1v1h-1zM277 427h1v1h-1zM322 427h1v1h-1zM374 427h1v1h-1zM417 427h1v1h-1zM486 427h14v1h-14zM116 428h1v1h-1zM137 428h1v1h-1zM185 428h1v1h-1zM249 428h1v1h-1zM278 428h1v1h-1zM321 428h1v1h-1zM375 428h1v1h-1zM417 428h1v1h-1zM117 429h1v1h-1zM137 429h1v1h-1zM185 429h1v1h-1zM249 429h1v1h-1zM279 429h2v1h-2zM320 429h1v1h-1zM376 429h1v1h-1zM416 429h1v1h-1zM118 430h1v1h-1zM136 430h1v1h-1zM186 430h1v1h-1zM248 430h1v1h-1zM281 430h2v1h-2zM319 430h1v1h-1zM377 430h1v1h-1zM416 430h1v1h-1zM119 431h1v1h-1zM135 431h1v1h-1zM186 431h1v1h-1zM248 431h1v1h-1zM283 431h1v1h-1zM318 431h1v1h-1zM378 431h1v1h-1zM415 431h1v1h-1zM120 432h2v1h-2zM134 432h1v1h-1zM187 432h1v1h-1zM247 432h1v1h-1zM284 432h2v1h-2zM317 432h1v1h-1zM379 432h1v1h-1zM413 432h2v1h-2zM122 433h1v1h-1zM133 433h1v1h-1zM187 433h1v1h-1zM247 433h1v1h-1zM286 433h2v1h-2zM317 433h1v1h-1zM380 433h2v1h-2zM412 433h1v1h-1zM123 434h1v1h-1zM133 434h1v1h-1zM188 434h1v1h-1zM246 434h1v1h-1zM288 434h2v1h-2zM316 434h1v1h-1zM382 434h1v1h-1zM411 434h1v1h-1zM124 435h2v1h-2zM132 435h1v1h-1zM188 435h1v1h-1zM246 435h1v1h-1zM290 435h2v1h-2zM315 435h1v1h-1zM383 435h1v1h-1zM409 435h2v1h-2zM126 436h3v1h-3zM131 436h1v1h-1zM189 436h1v1h-1zM245 436h1v1h-1zM292 436h2v1h-2zM314 436h1v1h-1zM384 436h1v1h-1zM404 436h5v1h-5zM129 437h2v1h-2zM189 437h1v1h-1zM245 437h1v1h-1zM294 437h3v1h-3zM313 437h1v1h-1zM385 437h1v1h-1zM398 437h6v1h-6zM190 438h1v1h-1zM244 438h1v1h-1zM297 438h2v1h-2zM306 438h7v1h-7zM386 438h12v1h-12zM190 439h1v1h-1zM244 439h1v1h-1zM299 439h7v1h-7zM191 440h1v1h-1zM243 440h1v1h-1zM192 441h1v1h-1zM242 441h1v1h-1zM193 442h1v1h-1zM242 442h1v1h-1zM194 443h1v1h-1zM241 443h1v1h-1zM195 444h1v1h-1zM240 444h1v1h-1zM196 445h1v1h-1zM239 445h1v1h-1zM197 446h1v1h-1zM239 446h1v1h-1zM198 447h1v1h-1zM238 447h1v1h-1zM199 448h1v1h-1zM237 448h1v1h-1zM200 449h1v1h-1zM236 449h1v1h-1zM201 450h1v1h-1zM236 450h1v1h-1zM202 451h1v1h-1zM235 451h1v1h-1zM202 452h1v1h-1zM234 452h1v1h-1zM203 453h1v1h-1zM233 453h1v1h-1zM204 454h1v1h-1zM232 454h1v1h-1zM205 455h1v1h-1zM231 455h1v1h-1zM205 456h1v1h-1zM230 456h1v1h-1zM206 457h1v1h-1zM229 457h1v1h-1zM207 458h1v1h-1zM228 458h1v1h-1zM208 459h1v1h-1zM227 459h1v1h-1zM209 460h2v1h-2zM225 460h2v1h-2zM211 461h1v1h-1zM223 461h2v1h-2zM212 462h2v1h-2zM221 462h2v1h-2zM214 463h3v1h-3zM219 463h2v1h-2zM217 464h2v1h-2z" fill="#c0c0c0" shape-rendering="crispEdges"/><polyline points="3.0,410.0 10.0,410.3 17.0,411.7 20.0,412.0 27.5,410.3 30.8,405.8 33.3,398.3 35.8,391.7 39.2,387.0 43.3,386.7 47.5,389.2 51.7,391.3 55.8,394.2 59.2,400.8 61.7,406.3 64.2,406.7 67.5,404.7 70.8,403.3 73.3,405.0 77.5,404.7 81.7,398.3 86.7,392.0 90.8,395.8 95.0,405.8 99.2,415.0 103.3,420.8 107.5,425.0 111.7,435.8 115.0,440.8 120.0,441.7 123.3,434.2 127.5,432.5 133.3,425.8 138.3,415.8 142.5,408.0 146.7,403.7 151.7,408.0 156.7,405.8 161.7,405.8 166.7,408.3 171.7,412.5 175.8,421.7 179.2,431.7 185.0,438.3 189.2,445.0 194.2,451.7 197.5,455.8 200.0,457.5 203.3,462.5 206.7,466.7 210.8,466.7 215.0,463.3 219.2,461.7 221.7,457.5 225.8,453.0 229.2,450.8 234.2,445.0 235.8,436.7 239.2,430.0 242.5,423.7 246.7,420.8 250.0,415.8 253.3,410.0 257.5,405.8 260.8,411.7 264.2,419.2 267.5,425.8 273.3,432.5 280.8,434.2 286.7,437.5 293.3,441.7 300.0,442.0 303.3,439.2 305.8,435.8 310.0,434.2 313.3,432.5 316.7,429.2 319.2,424.2 322.5,415.8 325.8,411.7 329.2,410.0 331.7,407.5 335.0,411.7 338.3,416.7 342.5,419.5 346.7,419.7 350.0,416.7 351.7,418.7 355.0,416.7 358.3,417.0 362.5,423.3 366.7,425.8 370.0,429.2 374.2,433.3 379.2,440.8 386.7,440.8 390.8,438.3 395.8,433.0 400.0,435.8 402.5,439.2 405.0,443.0 408.3,435.8 411.7,433.3 415.0,428.3 416.7,421.7 418.3,409.2 420.8,403.3 423.3,399.2 427.5,396.7 431.7,391.3 436.7,390.8 440.0,391.7 444.2,396.7 450.0,397.5 453.3,401.7 456.7,410.0 459.2,417.5 463.3,420.0 468.3,424.2 473.3,428.0 478.3,428.0 483.3,428.7 488.7,427.9 492.7,427.9 497.4,426.0 500.6,420.4 503.8,414.0 507.7,409.3 510.9,407.7 514.9,410.9 519.6,406.9 525.2,406.9 528.3,400.6 534.7,395.0 537.8,396.6 540.2,401.4 543.4,410.1" fill="none" stroke="#000080" stroke-width="2" stroke-linejoin="round" shape-rendering="crispEdges"/><line x1="557" y1="383.5" x2="559" y2="383.5" stroke="#000"/><line x1="557" y1="471.5" x2="559" y2="471.5" stroke="#000"/><text x="560.64" y="392" font-size="10.2" textLength="38.26" lengthAdjust="spacingAndGlyphs" fill="#000" stroke="#000" stroke-width="0.1">0.004483</text><text x="559.86" y="421" font-size="10.2" textLength="19.53" lengthAdjust="spacingAndGlyphs" fill="#000" stroke="#000" stroke-width="0.1">0.00</text><text x="560.85" y="421" font-size="10.2" textLength="5.00" lengthAdjust="spacingAndGlyphs" fill="#000" stroke="#000" stroke-width="0.1">0</text><text x="560.59" y="469" font-size="10.2" textLength="41.32" lengthAdjust="spacingAndGlyphs" fill="#000" stroke="#000" stroke-width="0.1">-0.006941</text><line x1="4" y1="506.5" x2="557" y2="506.5" stroke="#c0c0c0" stroke-dasharray="3 3"/><line x1="4" y1="548.5" x2="557" y2="548.5" stroke="#c0c0c0" stroke-dasharray="3 3"/><path d="M87 503h1v1h-1zM37 504h1v1h-1zM86 504h2v1h-2zM37 505h2v1h-2zM86 505h1v1h-1zM88 505h1v1h-1zM33 506h1v1h-1zM36 506h1v1h-1zM39 506h1v1h-1zM85 506h1v1h-1zM88 506h1v1h-1zM33 507h2v1h-2zM36 507h1v1h-1zM40 507h1v1h-1zM84 507h1v1h-1zM88 507h1v1h-1zM32 508h1v1h-1zM35 508h1v1h-1zM40 508h1v1h-1zM82 508h2v1h-2zM88 508h1v1h-1zM32 509h1v1h-1zM40 509h1v1h-1zM81 509h1v1h-1zM88 509h1v1h-1zM31 510h1v1h-1zM40 510h1v1h-1zM81 510h1v1h-1zM88 510h1v1h-1zM419 510h1v1h-1zM31 511h1v1h-1zM40 511h1v1h-1zM80 511h1v1h-1zM89 511h1v1h-1zM257 511h1v1h-1zM323 511h1v1h-1zM418 511h2v1h-2zM529 511h1v1h-1zM30 512h1v1h-1zM41 512h1v1h-1zM80 512h1v1h-1zM89 512h1v1h-1zM254 512h1v1h-1zM257 512h1v1h-1zM322 512h2v1h-2zM417 512h1v1h-1zM420 512h1v1h-1zM528 512h1v1h-1zM530 512h1v1h-1zM30 513h1v1h-1zM41 513h1v1h-1zM43 513h1v1h-1zM79 513h1v1h-1zM89 513h1v1h-1zM253 513h1v1h-1zM255 513h3v1h-3zM321 513h1v1h-1zM324 513h1v1h-1zM417 513h1v1h-1zM420 513h1v1h-1zM431 513h1v1h-1zM527 513h1v1h-1zM531 513h2v1h-2zM29 514h1v1h-1zM41 514h2v1h-2zM44 514h1v1h-1zM79 514h1v1h-1zM89 514h1v1h-1zM141 514h1v1h-1zM252 514h1v1h-1zM256 514h2v1h-2zM321 514h1v1h-1zM324 514h1v1h-1zM331 514h1v1h-1zM417 514h1v1h-1zM420 514h1v1h-1zM423 514h1v1h-1zM430 514h1v1h-1zM432 514h1v1h-1zM505 514h1v1h-1zM527 514h1v1h-1zM533 514h3v1h-3zM29 515h1v1h-1zM41 515h2v1h-2zM44 515h1v1h-1zM79 515h1v1h-1zM89 515h1v1h-1zM140 515h1v1h-1zM142 515h2v1h-2zM251 515h1v1h-1zM257 515h1v1h-1zM320 515h1v1h-1zM324 515h1v1h-1zM330 515h2v1h-2zM416 515h1v1h-1zM421 515h2v1h-2zM424 515h1v1h-1zM430 515h1v1h-1zM432 515h1v1h-1zM504 515h1v1h-1zM506 515h1v1h-1zM509 515h1v1h-1zM527 515h1v1h-1zM536 515h1v1h-1zM28 516h1v1h-1zM41 516h1v1h-1zM45 516h6v1h-6zM53 516h1v1h-1zM78 516h1v1h-1zM89 516h1v1h-1zM139 516h1v1h-1zM144 516h2v1h-2zM250 516h1v1h-1zM258 516h1v1h-1zM320 516h1v1h-1zM324 516h1v1h-1zM329 516h1v1h-1zM331 516h1v1h-1zM416 516h1v1h-1zM421 516h1v1h-1zM424 516h1v1h-1zM429 516h1v1h-1zM433 516h1v1h-1zM504 516h1v1h-1zM506 516h1v1h-1zM508 516h1v1h-1zM510 516h1v1h-1zM526 516h1v1h-1zM536 516h1v1h-1zM28 517h1v1h-1zM51 517h1v1h-1zM53 517h2v1h-2zM65 517h4v1h-4zM78 517h1v1h-1zM89 517h1v1h-1zM138 517h1v1h-1zM146 517h1v1h-1zM156 517h1v1h-1zM249 517h1v1h-1zM258 517h1v1h-1zM317 517h3v1h-3zM325 517h1v1h-1zM327 517h2v1h-2zM332 517h1v1h-1zM416 517h1v1h-1zM425 517h1v1h-1zM429 517h1v1h-1zM433 517h1v1h-1zM437 517h1v1h-1zM503 517h1v1h-1zM507 517h1v1h-1zM511 517h1v1h-1zM519 517h1v1h-1zM526 517h1v1h-1zM537 517h1v1h-1zM28 518h1v1h-1zM52 518h1v1h-1zM54 518h1v1h-1zM65 518h1v1h-1zM69 518h2v1h-2zM78 518h1v1h-1zM90 518h1v1h-1zM137 518h1v1h-1zM146 518h1v1h-1zM155 518h1v1h-1zM157 518h1v1h-1zM242 518h1v1h-1zM249 518h1v1h-1zM258 518h1v1h-1zM317 518h1v1h-1zM325 518h2v1h-2zM332 518h1v1h-1zM416 518h1v1h-1zM426 518h1v1h-1zM428 518h1v1h-1zM434 518h3v1h-3zM438 518h1v1h-1zM502 518h1v1h-1zM511 518h1v1h-1zM518 518h1v1h-1zM520 518h1v1h-1zM526 518h1v1h-1zM537 518h1v1h-1zM28 519h1v1h-1zM55 519h1v1h-1zM64 519h1v1h-1zM71 519h3v1h-3zM77 519h1v1h-1zM90 519h1v1h-1zM136 519h1v1h-1zM147 519h1v1h-1zM154 519h1v1h-1zM157 519h1v1h-1zM241 519h2v1h-2zM248 519h1v1h-1zM258 519h1v1h-1zM317 519h1v1h-1zM332 519h1v1h-1zM347 519h1v1h-1zM415 519h1v1h-1zM426 519h1v1h-1zM428 519h1v1h-1zM434 519h1v1h-1zM439 519h2v1h-2zM501 519h1v1h-1zM511 519h1v1h-1zM518 519h1v1h-1zM520 519h1v1h-1zM526 519h1v1h-1zM537 519h1v1h-1zM5 520h1v1h-1zM27 520h1v1h-1zM55 520h1v1h-1zM64 520h1v1h-1zM73 520h1v1h-1zM77 520h1v1h-1zM90 520h1v1h-1zM135 520h1v1h-1zM147 520h1v1h-1zM153 520h1v1h-1zM158 520h1v1h-1zM236 520h5v1h-5zM243 520h1v1h-1zM248 520h1v1h-1zM258 520h1v1h-1zM316 520h1v1h-1zM332 520h1v1h-1zM347 520h1v1h-1zM415 520h1v1h-1zM427 520h1v1h-1zM441 520h1v1h-1zM446 520h4v1h-4zM500 520h1v1h-1zM511 520h1v1h-1zM517 520h1v1h-1zM521 520h1v1h-1zM525 520h1v1h-1zM538 520h1v1h-1zM5 521h1v1h-1zM27 521h1v1h-1zM56 521h1v1h-1zM64 521h1v1h-1zM74 521h1v1h-1zM77 521h1v1h-1zM90 521h1v1h-1zM134 521h1v1h-1zM148 521h1v1h-1zM152 521h1v1h-1zM158 521h1v1h-1zM161 521h1v1h-1zM236 521h1v1h-1zM243 521h1v1h-1zM247 521h1v1h-1zM258 521h1v1h-1zM316 521h1v1h-1zM332 521h1v1h-1zM346 521h1v1h-1zM348 521h1v1h-1zM415 521h1v1h-1zM442 521h1v1h-1zM445 521h1v1h-1zM450 521h2v1h-2zM500 521h1v1h-1zM512 521h1v1h-1zM517 521h1v1h-1zM521 521h1v1h-1zM525 521h1v1h-1zM538 521h1v1h-1zM4 522h1v1h-1zM6 522h1v1h-1zM8 522h1v1h-1zM27 522h1v1h-1zM56 522h1v1h-1zM63 522h1v1h-1zM74 522h1v1h-1zM76 522h1v1h-1zM91 522h1v1h-1zM133 522h1v1h-1zM148 522h1v1h-1zM152 522h1v1h-1zM159 522h2v1h-2zM162 522h1v1h-1zM236 522h1v1h-1zM243 522h1v1h-1zM247 522h1v1h-1zM258 522h1v1h-1zM316 522h1v1h-1zM333 522h1v1h-1zM346 522h1v1h-1zM348 522h1v1h-1zM415 522h1v1h-1zM442 522h1v1h-1zM445 522h1v1h-1zM451 522h1v1h-1zM499 522h1v1h-1zM512 522h1v1h-1zM517 522h1v1h-1zM522 522h1v1h-1zM524 522h1v1h-1zM538 522h1v1h-1zM4 523h1v1h-1zM6 523h1v1h-1zM8 523h1v1h-1zM17 523h10v1h-10zM56 523h1v1h-1zM63 523h1v1h-1zM75 523h2v1h-2zM91 523h1v1h-1zM133 523h1v1h-1zM149 523h1v1h-1zM151 523h1v1h-1zM159 523h1v1h-1zM163 523h2v1h-2zM236 523h1v1h-1zM244 523h1v1h-1zM247 523h1v1h-1zM258 523h1v1h-1zM316 523h1v1h-1zM333 523h1v1h-1zM346 523h1v1h-1zM348 523h1v1h-1zM354 523h1v1h-1zM414 523h1v1h-1zM443 523h2v1h-2zM452 523h1v1h-1zM499 523h1v1h-1zM512 523h1v1h-1zM516 523h1v1h-1zM522 523h1v1h-1zM524 523h1v1h-1zM539 523h1v1h-1zM3 524h1v1h-1zM6 524h1v1h-1zM8 524h2v1h-2zM12 524h1v1h-1zM16 524h1v1h-1zM56 524h1v1h-1zM63 524h1v1h-1zM75 524h1v1h-1zM92 524h1v1h-1zM123 524h1v1h-1zM132 524h1v1h-1zM149 524h1v1h-1zM151 524h1v1h-1zM165 524h1v1h-1zM235 524h1v1h-1zM244 524h1v1h-1zM246 524h1v1h-1zM258 524h1v1h-1zM315 524h1v1h-1zM333 524h1v1h-1zM346 524h1v1h-1zM348 524h1v1h-1zM353 524h1v1h-1zM355 524h1v1h-1zM395 524h1v1h-1zM414 524h1v1h-1zM443 524h1v1h-1zM452 524h1v1h-1zM499 524h1v1h-1zM512 524h1v1h-1zM516 524h1v1h-1zM523 524h1v1h-1zM539 524h1v1h-1zM7 525h1v1h-1zM9 525h1v1h-1zM11 525h1v1h-1zM13 525h1v1h-1zM15 525h1v1h-1zM57 525h1v1h-1zM62 525h1v1h-1zM92 525h1v1h-1zM123 525h1v1h-1zM132 525h1v1h-1zM150 525h1v1h-1zM166 525h1v1h-1zM235 525h1v1h-1zM244 525h1v1h-1zM246 525h1v1h-1zM258 525h1v1h-1zM315 525h1v1h-1zM333 525h1v1h-1zM345 525h1v1h-1zM349 525h1v1h-1zM353 525h1v1h-1zM355 525h1v1h-1zM395 525h1v1h-1zM407 525h1v1h-1zM414 525h1v1h-1zM452 525h1v1h-1zM498 525h1v1h-1zM512 525h1v1h-1zM516 525h1v1h-1zM539 525h1v1h-1zM7 526h1v1h-1zM10 526h2v1h-2zM14 526h1v1h-1zM57 526h1v1h-1zM62 526h1v1h-1zM93 526h1v1h-1zM122 526h1v1h-1zM124 526h1v1h-1zM130 526h2v1h-2zM150 526h1v1h-1zM167 526h2v1h-2zM235 526h1v1h-1zM245 526h1v1h-1zM259 526h1v1h-1zM315 526h1v1h-1zM333 526h1v1h-1zM345 526h1v1h-1zM349 526h1v1h-1zM352 526h1v1h-1zM356 526h1v1h-1zM395 526h1v1h-1zM407 526h2v1h-2zM413 526h1v1h-1zM453 526h1v1h-1zM498 526h1v1h-1zM512 526h1v1h-1zM516 526h1v1h-1zM540 526h1v1h-1zM10 527h1v1h-1zM57 527h1v1h-1zM62 527h1v1h-1zM93 527h1v1h-1zM122 527h1v1h-1zM124 527h1v1h-1zM129 527h1v1h-1zM169 527h1v1h-1zM235 527h1v1h-1zM245 527h1v1h-1zM259 527h1v1h-1zM315 527h1v1h-1zM334 527h1v1h-1zM345 527h1v1h-1zM349 527h1v1h-1zM352 527h1v1h-1zM357 527h1v1h-1zM394 527h1v1h-1zM396 527h1v1h-1zM407 527h1v1h-1zM409 527h1v1h-1zM413 527h1v1h-1zM453 527h1v1h-1zM485 527h1v1h-1zM498 527h1v1h-1zM512 527h1v1h-1zM515 527h1v1h-1zM540 527h1v1h-1zM58 528h1v1h-1zM62 528h1v1h-1zM93 528h1v1h-1zM122 528h1v1h-1zM125 528h1v1h-1zM129 528h1v1h-1zM170 528h1v1h-1zM234 528h1v1h-1zM259 528h1v1h-1zM314 528h1v1h-1zM334 528h1v1h-1zM345 528h1v1h-1zM349 528h1v1h-1zM351 528h1v1h-1zM357 528h1v1h-1zM394 528h1v1h-1zM396 528h1v1h-1zM407 528h1v1h-1zM409 528h1v1h-1zM412 528h1v1h-1zM453 528h1v1h-1zM485 528h2v1h-2zM497 528h1v1h-1zM513 528h1v1h-1zM515 528h1v1h-1zM540 528h1v1h-1zM58 529h1v1h-1zM61 529h1v1h-1zM93 529h1v1h-1zM121 529h1v1h-1zM125 529h1v1h-1zM128 529h1v1h-1zM170 529h1v1h-1zM234 529h1v1h-1zM259 529h1v1h-1zM314 529h1v1h-1zM334 529h1v1h-1zM341 529h1v1h-1zM344 529h1v1h-1zM350 529h2v1h-2zM358 529h1v1h-1zM394 529h1v1h-1zM396 529h1v1h-1zM407 529h1v1h-1zM410 529h1v1h-1zM412 529h1v1h-1zM454 529h1v1h-1zM479 529h1v1h-1zM485 529h1v1h-1zM487 529h1v1h-1zM497 529h1v1h-1zM513 529h2v1h-2zM540 529h1v1h-1zM59 530h3v1h-3zM94 530h1v1h-1zM121 530h1v1h-1zM126 530h3v1h-3zM171 530h1v1h-1zM234 530h1v1h-1zM259 530h1v1h-1zM305 530h1v1h-1zM314 530h1v1h-1zM335 530h1v1h-1zM341 530h1v1h-1zM344 530h1v1h-1zM350 530h1v1h-1zM358 530h1v1h-1zM394 530h1v1h-1zM396 530h1v1h-1zM406 530h1v1h-1zM411 530h1v1h-1zM454 530h1v1h-1zM478 530h1v1h-1zM480 530h1v1h-1zM484 530h1v1h-1zM487 530h1v1h-1zM494 530h1v1h-1zM496 530h1v1h-1zM513 530h2v1h-2zM541 530h1v1h-1zM94 531h1v1h-1zM107 531h1v1h-1zM121 531h1v1h-1zM126 531h1v1h-1zM171 531h1v1h-1zM234 531h1v1h-1zM259 531h1v1h-1zM305 531h1v1h-1zM314 531h1v1h-1zM335 531h1v1h-1zM340 531h1v1h-1zM342 531h1v1h-1zM344 531h1v1h-1zM359 531h1v1h-1zM367 531h1v1h-1zM393 531h1v1h-1zM396 531h1v1h-1zM406 531h1v1h-1zM455 531h1v1h-1zM466 531h2v1h-2zM478 531h1v1h-1zM480 531h1v1h-1zM484 531h1v1h-1zM488 531h1v1h-1zM493 531h1v1h-1zM495 531h1v1h-1zM513 531h1v1h-1zM541 531h1v1h-1zM95 532h1v1h-1zM100 532h1v1h-1zM106 532h2v1h-2zM121 532h1v1h-1zM171 532h1v1h-1zM233 532h1v1h-1zM260 532h1v1h-1zM304 532h1v1h-1zM306 532h1v1h-1zM313 532h1v1h-1zM336 532h1v1h-1zM340 532h1v1h-1zM342 532h1v1h-1zM344 532h1v1h-1zM360 532h1v1h-1zM366 532h2v1h-2zM393 532h1v1h-1zM397 532h1v1h-1zM406 532h1v1h-1zM456 532h1v1h-1zM462 532h4v1h-4zM468 532h1v1h-1zM477 532h1v1h-1zM481 532h1v1h-1zM484 532h1v1h-1zM489 532h1v1h-1zM493 532h1v1h-1zM541 532h1v1h-1zM96 533h1v1h-1zM99 533h1v1h-1zM101 533h1v1h-1zM106 533h2v1h-2zM120 533h1v1h-1zM171 533h1v1h-1zM233 533h1v1h-1zM261 533h3v1h-3zM304 533h1v1h-1zM306 533h1v1h-1zM313 533h1v1h-1zM337 533h1v1h-1zM340 533h1v1h-1zM343 533h1v1h-1zM360 533h1v1h-1zM366 533h1v1h-1zM368 533h1v1h-1zM390 533h1v1h-1zM393 533h1v1h-1zM397 533h1v1h-1zM406 533h1v1h-1zM457 533h1v1h-1zM461 533h1v1h-1zM469 533h1v1h-1zM476 533h1v1h-1zM481 533h1v1h-1zM484 533h1v1h-1zM490 533h1v1h-1zM492 533h1v1h-1zM541 533h1v1h-1zM97 534h2v1h-2zM101 534h1v1h-1zM105 534h1v1h-1zM108 534h1v1h-1zM120 534h1v1h-1zM172 534h1v1h-1zM233 534h1v1h-1zM263 534h1v1h-1zM303 534h1v1h-1zM306 534h1v1h-1zM313 534h1v1h-1zM338 534h2v1h-2zM343 534h1v1h-1zM361 534h1v1h-1zM365 534h1v1h-1zM368 534h1v1h-1zM389 534h1v1h-1zM391 534h1v1h-1zM393 534h1v1h-1zM397 534h1v1h-1zM406 534h1v1h-1zM457 534h1v1h-1zM461 534h1v1h-1zM469 534h1v1h-1zM475 534h1v1h-1zM482 534h2v1h-2zM490 534h1v1h-1zM492 534h1v1h-1zM542 534h1v1h-1zM102 535h1v1h-1zM105 535h1v1h-1zM108 535h1v1h-1zM120 535h1v1h-1zM172 535h1v1h-1zM233 535h1v1h-1zM264 535h1v1h-1zM303 535h1v1h-1zM307 535h2v1h-2zM312 535h1v1h-1zM339 535h1v1h-1zM361 535h1v1h-1zM365 535h1v1h-1zM369 535h1v1h-1zM381 535h1v1h-1zM388 535h1v1h-1zM391 535h2v1h-2zM398 535h1v1h-1zM406 535h1v1h-1zM458 535h1v1h-1zM460 535h1v1h-1zM470 535h1v1h-1zM475 535h1v1h-1zM482 535h2v1h-2zM491 535h1v1h-1zM542 535h1v1h-1zM102 536h1v1h-1zM104 536h1v1h-1zM108 536h1v1h-1zM119 536h1v1h-1zM172 536h1v1h-1zM232 536h1v1h-1zM264 536h1v1h-1zM302 536h1v1h-1zM307 536h1v1h-1zM309 536h1v1h-1zM312 536h1v1h-1zM362 536h1v1h-1zM364 536h1v1h-1zM369 536h1v1h-1zM381 536h2v1h-2zM387 536h1v1h-1zM392 536h1v1h-1zM399 536h1v1h-1zM406 536h1v1h-1zM459 536h1v1h-1zM471 536h2v1h-2zM474 536h1v1h-1zM483 536h1v1h-1zM542 536h1v1h-1zM103 537h2v1h-2zM108 537h1v1h-1zM119 537h1v1h-1zM172 537h1v1h-1zM185 537h1v1h-1zM231 537h2v1h-2zM264 537h1v1h-1zM275 537h4v1h-4zM302 537h1v1h-1zM310 537h2v1h-2zM362 537h1v1h-1zM364 537h1v1h-1zM369 537h1v1h-1zM381 537h2v1h-2zM386 537h1v1h-1zM399 537h1v1h-1zM406 537h1v1h-1zM473 537h1v1h-1zM103 538h1v1h-1zM108 538h1v1h-1zM118 538h1v1h-1zM173 538h1v1h-1zM185 538h1v1h-1zM229 538h2v1h-2zM264 538h1v1h-1zM273 538h2v1h-2zM279 538h3v1h-3zM302 538h1v1h-1zM311 538h1v1h-1zM363 538h1v1h-1zM370 538h1v1h-1zM380 538h1v1h-1zM383 538h3v1h-3zM400 538h1v1h-1zM406 538h1v1h-1zM108 539h1v1h-1zM117 539h1v1h-1zM173 539h1v1h-1zM185 539h1v1h-1zM221 539h1v1h-1zM228 539h1v1h-1zM265 539h1v1h-1zM269 539h4v1h-4zM282 539h1v1h-1zM301 539h1v1h-1zM370 539h2v1h-2zM380 539h1v1h-1zM401 539h1v1h-1zM405 539h1v1h-1zM109 540h1v1h-1zM117 540h1v1h-1zM173 540h1v1h-1zM184 540h1v1h-1zM186 540h1v1h-1zM221 540h3v1h-3zM227 540h1v1h-1zM265 540h1v1h-1zM267 540h2v1h-2zM283 540h1v1h-1zM301 540h1v1h-1zM372 540h2v1h-2zM380 540h1v1h-1zM401 540h1v1h-1zM405 540h1v1h-1zM109 541h1v1h-1zM116 541h1v1h-1zM173 541h1v1h-1zM184 541h1v1h-1zM186 541h1v1h-1zM221 541h1v1h-1zM224 541h1v1h-1zM227 541h1v1h-1zM265 541h2v1h-2zM283 541h1v1h-1zM301 541h1v1h-1zM374 541h1v1h-1zM380 541h1v1h-1zM402 541h1v1h-1zM405 541h1v1h-1zM109 542h1v1h-1zM115 542h1v1h-1zM174 542h1v1h-1zM184 542h1v1h-1zM186 542h1v1h-1zM220 542h1v1h-1zM224 542h1v1h-1zM226 542h1v1h-1zM284 542h1v1h-1zM301 542h1v1h-1zM375 542h1v1h-1zM379 542h1v1h-1zM402 542h2v1h-2zM405 542h1v1h-1zM110 543h2v1h-2zM113 543h2v1h-2zM174 543h1v1h-1zM184 543h1v1h-1zM186 543h1v1h-1zM220 543h1v1h-1zM225 543h1v1h-1zM285 543h2v1h-2zM300 543h1v1h-1zM376 543h1v1h-1zM379 543h1v1h-1zM404 543h2v1h-2zM112 544h1v1h-1zM174 544h1v1h-1zM184 544h1v1h-1zM186 544h1v1h-1zM191 544h1v1h-1zM220 544h1v1h-1zM287 544h1v1h-1zM300 544h1v1h-1zM377 544h3v1h-3zM174 545h1v1h-1zM178 545h2v1h-2zM183 545h1v1h-1zM186 545h1v1h-1zM191 545h1v1h-1zM220 545h1v1h-1zM288 545h1v1h-1zM300 545h1v1h-1zM175 546h1v1h-1zM177 546h1v1h-1zM180 546h4v1h-4zM187 546h1v1h-1zM190 546h1v1h-1zM192 546h1v1h-1zM211 546h1v1h-1zM220 546h1v1h-1zM288 546h1v1h-1zM291 546h1v1h-1zM299 546h1v1h-1zM175 547h2v1h-2zM183 547h1v1h-1zM187 547h1v1h-1zM190 547h1v1h-1zM192 547h1v1h-1zM211 547h3v1h-3zM220 547h1v1h-1zM289 547h2v1h-2zM292 547h1v1h-1zM295 547h2v1h-2zM299 547h1v1h-1zM175 548h1v1h-1zM187 548h3v1h-3zM192 548h1v1h-1zM198 548h1v1h-1zM210 548h1v1h-1zM214 548h1v1h-1zM219 548h1v1h-1zM289 548h1v1h-1zM292 548h1v1h-1zM294 548h1v1h-1zM297 548h2v1h-2zM193 549h2v1h-2zM196 549h2v1h-2zM199 549h1v1h-1zM210 549h1v1h-1zM215 549h3v1h-3zM219 549h1v1h-1zM293 549h1v1h-1zM195 550h1v1h-1zM200 550h1v1h-1zM210 550h1v1h-1zM218 550h2v1h-2zM200 551h1v1h-1zM209 551h1v1h-1zM200 552h1v1h-1zM209 552h1v1h-1zM201 553h1v1h-1zM207 553h2v1h-2zM201 554h1v1h-1zM203 554h4v1h-4zM201 555h2v1h-2z" fill="#1e90ff" shape-rendering="crispEdges"/><line x1="557" y1="476.5" x2="559" y2="476.5" stroke="#000"/><text x="560.79" y="485" font-size="10.2" textLength="15.58" lengthAdjust="spacingAndGlyphs" fill="#000" stroke="#000" stroke-width="0.1">100</text><text x="559.50" y="510" font-size="10.2" textLength="10.88" lengthAdjust="spacingAndGlyphs" fill="#000" stroke="#000" stroke-width="0.1">70</text><text x="559.64" y="552" font-size="10.2" textLength="10.42" lengthAdjust="spacingAndGlyphs" fill="#000" stroke="#000" stroke-width="0.1">30</text><text x="560.94" y="576" font-size="10.2" textLength="5.12" lengthAdjust="spacingAndGlyphs" fill="#000" stroke="#000" stroke-width="0.1">0</text><line x1="3.5" y1="579" x2="3.5" y2="583" stroke="#000"/><text x="1.52" y="592" font-size="10.2" textLength="54.26" lengthAdjust="spacingAndGlyphs" fill="#000" stroke="#000" stroke-width="0.1">22 Nov 2017</text><line x1="67.5" y1="579" x2="67.5" y2="583" stroke="#000"/><text x="65.82" y="592" font-size="10.2" textLength="57.06" lengthAdjust="spacingAndGlyphs" fill="#000" stroke="#000" stroke-width="0.1">29 Nov 12:00</text><line x1="131.5" y1="579" x2="131.5" y2="583" stroke="#000"/><text x="129.52" y="592" font-size="10.2" textLength="50.85" lengthAdjust="spacingAndGlyphs" fill="#000" stroke="#000" stroke-width="0.1">6 Dec 20:00</text><line x1="195.5" y1="579" x2="195.5" y2="583" stroke="#000"/><text x="194.00" y="592" font-size="10.2" textLength="54.66" lengthAdjust="spacingAndGlyphs" fill="#000" stroke="#000" stroke-width="0.1">14 Dec 04:00</text><line x1="259.5" y1="579" x2="259.5" y2="583" stroke="#000"/><text x="257.53" y="592" font-size="10.2" textLength="55.84" lengthAdjust="spacingAndGlyphs" fill="#000" stroke="#000" stroke-width="0.1">21 Dec 12:00</text><line x1="323.5" y1="579" x2="323.5" y2="583" stroke="#000"/><text x="321.64" y="592" font-size="10.2" textLength="48.02" lengthAdjust="spacingAndGlyphs" fill="#000" stroke="#000" stroke-width="0.1">2 Jan 12:00</text><line x1="387.5" y1="579" x2="387.5" y2="583" stroke="#000"/><text x="385.87" y="592" font-size="10.2" textLength="48.19" lengthAdjust="spacingAndGlyphs" fill="#000" stroke="#000" stroke-width="0.1">9 Jan 20:00</text><line x1="451.5" y1="579" x2="451.5" y2="583" stroke="#000"/><text x="449.60" y="592" font-size="10.2" textLength="53.26" lengthAdjust="spacingAndGlyphs" fill="#000" stroke="#000" stroke-width="0.1">17 Jan 04:00</text><line x1="515.5" y1="579" x2="515.5" y2="583" stroke="#000"/><text x="513.74" y="592" font-size="10.2" textLength="53.32" lengthAdjust="spacingAndGlyphs" fill="#000" stroke="#000" stroke-width="0.1">24 Jan 12:00</text><path d="M6 9 H13 L9.5 13 Z" fill="#000"/><text x="17.91" y="14" font-size="10.2" textLength="55.67" lengthAdjust="spacingAndGlyphs" fill="#000" stroke="#000" stroke-width="0.1">EURAUD,H4</text><text x="79.31" y="14" font-size="10.2" textLength="32.84" lengthAdjust="spacingAndGlyphs" fill="#000" stroke="#000" stroke-width="0.1">1.53361</text><text x="114.90" y="14" font-size="10.2" textLength="33.13" lengthAdjust="spacingAndGlyphs" fill="#000" stroke="#000" stroke-width="0.1">1.53399</text><text x="150.29" y="14" font-size="10.2" textLength="33.58" lengthAdjust="spacingAndGlyphs" fill="#000" stroke="#000" stroke-width="0.1">1.52944</text><text x="186.29" y="14" font-size="10.2" textLength="33.72" lengthAdjust="spacingAndGlyphs" fill="#000" stroke="#000" stroke-width="0.1">1.53153</text></svg></body></html>
